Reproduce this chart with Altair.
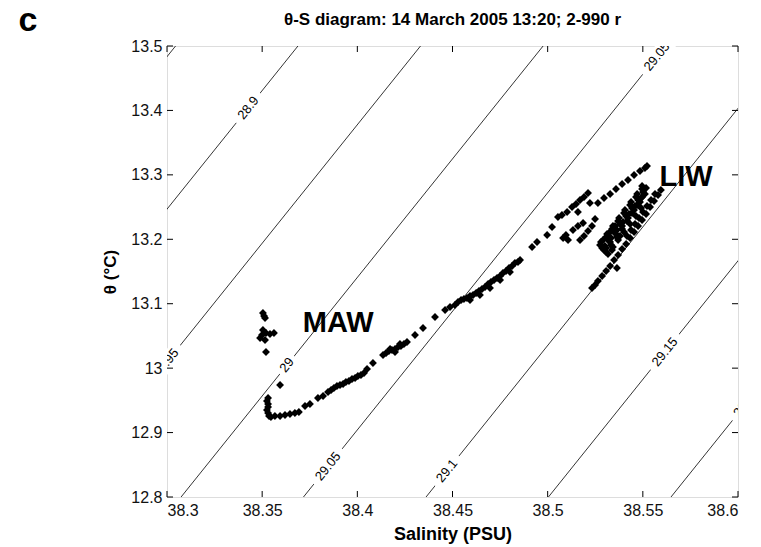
import altair as alt
import pandas as pd

# ---------------- data ----------------
# surface MAW cluster
maw_S = [38.3504, 38.3515, 38.3510, 38.3504, 38.3520, 38.3499, 38.3489, 38.3515, 38.3562, 38.3541, 38.3520, 38.3594]
maw_T = [13.0856, 13.0778, 13.0810, 13.0592, 13.0545, 13.0514, 13.0468, 13.0437, 13.0545, 13.0530, 13.0250, 12.9738]
# hook at the MAW core
hook_S = [38.3531, 38.3525, 38.3531, 38.3531, 38.3525, 38.3531, 38.3536, 38.3546, 38.3567, 38.3594, 38.3620, 38.3646,
          38.3672, 38.3693, 38.3725, 38.3751, 38.3793, 38.3820, 38.3846]
hook_T = [12.9537, 12.9490, 12.9443, 12.9396, 12.9350, 12.9303, 12.9257, 12.9242, 12.9257, 12.9257, 12.9273, 12.9288,
          12.9303, 12.9319, 12.9412, 12.9443, 12.9537, 12.9568, 12.9630]
# lower branch
s1_S = [38.3862, 38.3877, 38.3893, 38.3909, 38.3925, 38.3940, 38.3956, 38.3972, 38.3988, 38.4003, 38.4019, 38.4035, 38.4051, 38.4082]
s1_T = [12.9661, 12.9692, 12.9723, 12.9738, 12.9754, 12.9785, 12.9800, 12.9831, 12.9847, 12.9878, 12.9893, 12.9925, 12.9987, 13.0080]
s2_S = [38.4135, 38.4151, 38.4166, 38.4182, 38.4198, 38.4214, 38.4229, 38.4245, 38.4261, 38.4303, 38.4345, 38.4408, 38.4461, 38.4487,
        38.4172, 38.4224, 38.4198]
s2_T = [13.0204, 13.0235, 13.0266, 13.0282, 13.0297, 13.0328, 13.0344, 13.0375, 13.0406, 13.0514, 13.0623, 13.0794, 13.0902, 13.0949,
        13.0297, 13.0375, 13.0251]
# transition band
s3_S = [38.4513, 38.4529, 38.4545, 38.4560, 38.4576, 38.4592, 38.4608, 38.4624, 38.4639, 38.4655, 38.4671, 38.4687, 38.4702, 38.4718,
        38.4734, 38.4750, 38.4765, 38.4781, 38.4797, 38.4813, 38.4828, 38.4844, 38.4855, 38.4592, 38.4644, 38.4697, 38.4750, 38.4802]
s3_T = [13.0980, 13.1027, 13.1058, 13.1073, 13.1089, 13.1120, 13.1135, 13.1166, 13.1197, 13.1228, 13.1259, 13.1306, 13.1337, 13.1368,
        13.1399, 13.1430, 13.1477, 13.1508, 13.1554, 13.1585, 13.1632, 13.1647, 13.1678, 13.1058, 13.1135, 13.1244, 13.1368, 13.1492]
gap_S = [38.4918, 38.4944, 38.4997, 38.5023, 38.5054]
gap_T = [13.1880, 13.1958, 13.2066, 13.2190, 13.2346]
# LIW: left cluster
liwL_S = [38.5075, 38.5102, 38.5128, 38.5149, 38.5170, 38.5191, 38.5212, 38.5222, 38.5159, 38.5081, 38.5096, 38.5107, 38.5133,
          38.5159, 38.5186, 38.5170, 38.5191, 38.5212, 38.5233, 38.5249]
liwL_T = [13.2377, 13.2423, 13.2501, 13.2548, 13.2610, 13.2656, 13.2718, 13.2563, 13.2423, 13.2020, 13.2066, 13.1989, 13.2144,
          13.2206, 13.2253, 13.1989, 13.2051, 13.2129, 13.2206, 13.2315]
# LIW: upper arm
liwU_S = [38.5264, 38.5296, 38.5328, 38.5359, 38.5391, 38.5422, 38.5454, 38.5485, 38.5511, 38.5522]
liwU_T = [13.2563, 13.2641, 13.2703, 13.2780, 13.2858, 13.2920, 13.2998, 13.3060, 13.3106, 13.3137]
# LIW: main mass
liwM_S = [38.5275, 38.5307, 38.5338, 38.5370, 38.5401, 38.5433, 38.5464, 38.5496,
          38.5296, 38.5328, 38.5359, 38.5391, 38.5422, 38.5454, 38.5485, 38.5511,
          38.5317, 38.5343, 38.5370, 38.5401, 38.5433, 38.5464, 38.5491,
          38.5291, 38.5322, 38.5354, 38.5307, 38.5338, 38.5380,
          38.5286, 38.5317, 38.5349, 38.5380, 38.5412, 38.5443, 38.5475, 38.5501,
          38.5307, 38.5333, 38.5364, 38.5391, 38.5417, 38.5443, 38.5470, 38.5496, 38.5517,
          38.5280, 38.5312, 38.5343, 38.5375, 38.5406, 38.5438, 38.5470, 38.5496,
          38.5301, 38.5333, 38.5364, 38.5396, 38.5427, 38.5459, 38.5491]
liwM_T = [13.1911, 13.2035, 13.2160, 13.2284, 13.2408, 13.2532, 13.2656, 13.2780,
          13.1834, 13.1958, 13.2082, 13.2206, 13.2330, 13.2455, 13.2579, 13.2703,
          13.1772, 13.1880, 13.1989, 13.2113, 13.2237, 13.2361, 13.2486,
          13.1989, 13.2098, 13.2206, 13.1865, 13.1834, 13.2051,
          13.1865, 13.1989, 13.2113, 13.2237, 13.2361, 13.2486, 13.2610, 13.2734,
          13.1803, 13.1911, 13.2035, 13.2160, 13.2284, 13.2408, 13.2532, 13.2656, 13.2796,
          13.1958, 13.2082, 13.2206, 13.2330, 13.2455, 13.2579, 13.2703, 13.2827,
          13.1896, 13.2020, 13.2144, 13.2268, 13.2392, 13.2517, 13.2641]
# LIW: right band
liwR_S = [38.5233, 38.5249, 38.5264, 38.5286, 38.5307, 38.5328, 38.5349, 38.5364, 38.5370, 38.5391, 38.5412, 38.5433, 38.5454,
          38.5475, 38.5496, 38.5517, 38.5538, 38.5559, 38.5580, 38.5595,
          38.5417, 38.5438, 38.5459, 38.5480, 38.5501, 38.5522, 38.5543, 38.5564]
liwR_T = [13.1244, 13.1290, 13.1353, 13.1430, 13.1508, 13.1585, 13.1678, 13.1554, 13.1756, 13.1849, 13.1927, 13.2020, 13.2113,
          13.2206, 13.2299, 13.2392, 13.2501, 13.2594, 13.2687, 13.2765,
          13.2051, 13.2144, 13.2237, 13.2330, 13.2423, 13.2517, 13.2610, 13.2703]

# isopycnals (sigma-theta) : salinity where each crosses theta = 12.8 and theta = 13.5
iso_levels = [28.85, 28.9, 28.95, 29.0, 29.05, 29.1, 29.15, 29.2]
iso_S_low = [38.1143, 38.1786, 38.2430, 38.3074, 38.3717, 38.4361, 38.5004, 38.5648]
iso_S_high = [38.3045, 38.3688, 38.4332, 38.4976, 38.5619, 38.6263, 38.6906, 38.7550]
iso_T_low = 12.8
iso_T_high = 13.5

# contour labels
lab_text = ["28.9", "28.95", "29", "29.05", "29.05", "29.1", "29.15", "29.2"]
lab_S = [38.3427, 38.2995, 38.3630, 38.3846, 38.5574, 38.4471, 38.5616, 38.6032]
lab_T = [13.4038, 13.0079, 13.0048, 12.8474, 13.4834, 12.8406, 13.0251, 12.9423]

# water mass labels
wm_text = ["MAW", "LIW"]
wm_S = [38.3900, 38.5727]
wm_T = [13.0708, 13.2959]

x_ticks = [38.3, 38.35, 38.4, 38.45, 38.5, 38.55, 38.6]
y_ticks = [12.8, 12.9, 13.0, 13.1, 13.2, 13.3, 13.4, 13.5]

title_text = "θ-S diagram: 14 March 2005 13:20; 2-990 r"
panel_text = "c"

# ---------------- chart ----------------
W, H = 571, 451
FONT = "Liberation Sans"
ANG = 309

S_all = maw_S + hook_S + s1_S + s2_S + s3_S + gap_S + liwL_S + liwU_S + liwM_S + liwR_S
T_all = maw_T + hook_T + s1_T + s2_T + s3_T + gap_T + liwL_T + liwU_T + liwM_T + liwR_T
pts = pd.DataFrame({"S": S_all, "T": T_all})

iso_rows = []
for lv, sl, sh in zip(iso_levels, iso_S_low, iso_S_high):
    iso_rows.append({"level": lv, "S": sl, "T": iso_T_low, "o": 0})
    iso_rows.append({"level": lv, "S": sh, "T": iso_T_high, "o": 1})
iso = pd.DataFrame(iso_rows)

labs = pd.DataFrame({"txt": lab_text, "S": lab_S, "T": lab_T})
labs["msize"] = [(len(t) * 7.5 + 8) ** 2 for t in lab_text]
wm = pd.DataFrame({"txt": wm_text, "S": wm_S, "T": wm_T})

xs = alt.Scale(domain=[38.3, 38.6], nice=False, zero=False)
ys = alt.Scale(domain=[12.8, 13.5], nice=False, zero=False)

xax = alt.Axis(values=x_ticks, format=".2~f", ticks=False, grid=False, domain=False, labelFont=FONT,
               labelFontSize=16, labelColor="#111", labelPadding=5, title="Salinity (PSU)", titleFont=FONT,
               titleFontSize=18, titleFontWeight="bold", titleColor="black", titlePadding=7)
yax = alt.Axis(values=y_ticks, format=".1~f", ticks=False, grid=False, domain=False, labelFont=FONT,
               labelFontSize=16, labelColor="#111", labelPadding=5, title="θ (°C)", titleFont=FONT,
               titleFontSize=17, titleFontWeight="bold", titleColor="black", titlePadding=11)

X = alt.X("S:Q", scale=xs, axis=xax)
Y = alt.Y("T:Q", scale=ys, axis=yax)

lines = alt.Chart(iso).mark_line(color="black", strokeWidth=0.8, clip=True).encode(
    x=X, y=Y, detail="level:N", order="o:Q")

masks = alt.Chart(labs).mark_point(
    shape="M-1,-0.36L1,-0.36L1,0.36L-1,0.36Z", filled=True, fill="white", stroke=None,
    opacity=1, angle=ANG, clip=True).encode(
    x=alt.X("S:Q", scale=xs), y=alt.Y("T:Q", scale=ys), size=alt.Size("msize:Q", scale=None))

ltext = alt.Chart(labs).mark_text(angle=ANG, font=FONT, fontSize=13, color="black", clip=True,
                                  align="center", baseline="middle").encode(
    x=alt.X("S:Q", scale=xs), y=alt.Y("T:Q", scale=ys), text="txt:N")

points = alt.Chart(pts).mark_point(shape="diamond", filled=True, color="black", size=62, opacity=1).encode(
    x=alt.X("S:Q", scale=xs), y=alt.Y("T:Q", scale=ys))

wmtext = alt.Chart(wm).mark_text(font=FONT, fontSize=29, fontWeight="bold", color="black",
                                 align="center", baseline="middle").encode(
    x=alt.X("S:Q", scale=xs), y=alt.Y("T:Q", scale=ys), text="txt:N")

tick_x = pd.DataFrame({"v": x_ticks})
tick_y = pd.DataFrame({"v": y_ticks})
TL = 6
tb = alt.Chart(tick_x).mark_rule(color="black", strokeWidth=1).encode(
    x=alt.X("v:Q", scale=xs), y=alt.value(H), y2=alt.value(H - TL))
tt = alt.Chart(tick_x).mark_rule(color="black", strokeWidth=1).encode(
    x=alt.X("v:Q", scale=xs), y=alt.value(0), y2=alt.value(TL))
tl = alt.Chart(tick_y).mark_rule(color="black", strokeWidth=1).encode(
    y=alt.Y("v:Q", scale=ys), x=alt.value(0), x2=alt.value(TL))
tr = alt.Chart(tick_y).mark_rule(color="black", strokeWidth=1).encode(
    y=alt.Y("v:Q", scale=ys), x=alt.value(W), x2=alt.value(W - TL))

panel = alt.Chart(pd.DataFrame({"t": [panel_text]})).mark_text(
    font=FONT, fontSize=34, fontWeight="bold", color="black", align="center", baseline="alphabetic").encode(
    text="t:N", x=alt.value(-139), y=alt.value(-15))

title = alt.Chart(pd.DataFrame({"t": [title_text]})).mark_text(
    font=FONT, fontSize=17, fontWeight="bold", color="black", align="center", baseline="alphabetic").encode(
    text="t:N", x=alt.value(W / 2), y=alt.value(-21))

chart = alt.layer(lines, masks, ltext, points, wmtext, tb, tt, tl, tr, panel, title).properties(
    width=W, height=H,
    autosize=alt.AutoSizeParams(type="none"),
    padding={"left": 167, "top": 46, "right": 23, "bottom": 50},
).configure_view(stroke="black", strokeWidth=1.2).configure(background="white")

chart.save("out.html", embed_options={"renderer": "svg", "actions": False})
